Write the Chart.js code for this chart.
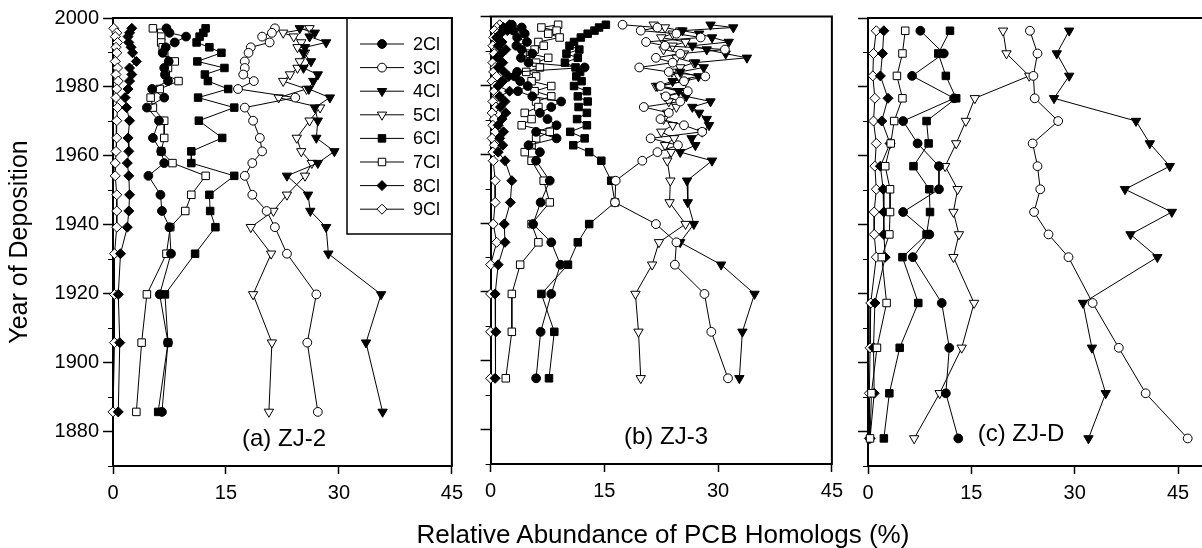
<!DOCTYPE html>
<html>
<head>
<meta charset="utf-8">
<script src="https://cdn.jsdelivr.net/npm/chart.js@4"></script>
<style>
  html, body { margin: 0; padding: 0; background: #fff; width: 1202px; height: 548px; overflow: hidden; }
  canvas { position: absolute; top: 0; }
  #chartA { left: 0; }
  #chartB { left: 470px; }
  #chartC { left: 850px; }
  .txt { position: absolute; font-family: "Liberation Sans", Arial, Helvetica, sans-serif; color: #000; white-space: nowrap; transform: translateX(-50%); }
  .panel { font-size: 24px; line-height: 28px; }
  #xTitle { font-size: 26px; line-height: 30px; left: 663px; top: 519px; }
</style>
</head>
<body>
<canvas id="chartA" width="470" height="548"></canvas>
<canvas id="chartB" width="380" height="548"></canvas>
<canvas id="chartC" width="380" height="548"></canvas>
<div class="txt panel" style="left:284px; top:424px;">(a) ZJ-2</div>
<div class="txt panel" style="left:666px; top:422px;">(b) ZJ-3</div>
<div class="txt panel" style="left:1021px; top:419px;">(c) ZJ-D</div>
<div class="txt" id="xTitle">Relative Abundance of PCB Homologs (%)</div>
<script>
// ---- data (year of deposition, % of each homolog group) ----
const seriesLabels = ['2Cl', '3Cl', '4Cl', '5Cl', '6Cl', '7Cl', '8Cl', '9Cl'];
const xTicks = [0, 15, 30, 45];
const yTicks = [1880, 1900, 1920, 1940, 1960, 1980, 2000];
const yMinorTicks = [1870, 1890, 1910, 1930, 1950, 1970, 1990];

// (a) ZJ-2
const yearsA = [1997.0, 1995.7, 1994.6, 1992.9, 1991.5, 1989.9, 1987.4, 1985.5, 1983.6, 1981.7, 1979.4, 1976.9, 1974.0,
                1970.2, 1965.2, 1961.3, 1957.9, 1954.2, 1948.7, 1944.0, 1939.3, 1931.6, 1919.8, 1905.8, 1885.7];
const a2Cl = [7.1, 7.5, 9.7, 8.2, 7.0, 6.6, 7.4, 6.8, 6.9, 7.3, 5.2, 6.8, 4.5, 6.1, 5.3, 6.4, 6.8, 4.7, 6.3, 6.5, 7.5, 7.7, 6.2, 7.3, 6.5];
const a3Cl = [21.5, 21.1, 19.8, 20.8, 18.3, 18.0, 17.5, 17.5, 17.3, 18.7, 16.6, 24.2, 17.5, 18.6, 19.5, 19.8, 18.5, 17.5, 18.5, 20.4, 21.5, 23.1, 27.0, 25.8, 27.2];
const a4Cl = [24.8, 26.8, 26.1, 28.3, 25.5, 25.3, 26.3, 25.3, 27.2, 26.6, 26.0, 28.8, 26.8, 27.2, 27.0, 29.4, 27.2, 23.1, 25.9, 26.2, 28.3, 28.6, 35.6, 33.6, 35.8];
const a5Cl = [26.1, 22.6, 24.0, 25.0, 24.5, 25.5, 24.8, 24.5, 23.5, 22.6, 25.7, 22.0, 27.5, 26.1, 24.4, 25.0, 26.4, 25.5, 23.1, 21.3, 18.3, 21.0, 18.6, 21.1, 20.7];
const a6Cl = [12.3, 12.0, 11.5, 11.1, 12.8, 14.4, 11.2, 14.8, 12.2, 12.6, 15.3, 11.3, 16.1, 11.4, 14.5, 10.4, 10.4, 16.1, 12.8, 12.9, 13.6, 10.9, 6.9, 7.3, 6.0];
const a7Cl = [5.3, 6.4, 6.4, 6.4, 6.6, 6.8, 8.2, 7.3, 7.0, 8.7, 6.2, 5.0, 5.3, 6.8, 6.8, 6.4, 7.9, 12.3, 10.4, 9.6, 7.6, 7.1, 4.5, 3.8, 3.1];
const a8Cl = [2.5, 2.2, 2.0, 2.1, 2.4, 2.6, 3.1, 2.2, 2.5, 2.2, 2.0, 1.6, 1.8, 2.2, 2.0, 2.1, 1.9, 2.1, 2.2, 2.1, 1.9, 1.0, 0.7, 0.9, 0.7];
const a9Cl = [0.1, 0.5, 0.3, 0.6, 0.4, 0.5, 0.3, 0.6, 0.4, 0.7, 0.5, 0.4, 0.6, 0.5, 0.5, 0.4, 0.3, 0.3, 0.5, 0.5, 0.5, 0.2, 0.2, 0.2, 0.0];

// (b) ZJ-3
const yearsB = [1997.6, 1996.8, 1995.9, 1995.0, 1993.9, 1992.6, 1991.5, 1990.4, 1989.2, 1988.0, 1986.6, 1985.2, 1983.9,
                1982.6, 1981.2, 1979.8, 1978.3, 1976.8, 1975.3, 1973.7, 1972.0, 1970.2, 1968.4, 1966.5, 1964.6, 1962.6,
                1960.6, 1958.1, 1952.3, 1946.0, 1939.7, 1934.4, 1927.9, 1919.4, 1908.4, 1894.9];
const b2Cl = [2.8, 4.1, 3.0, 4.5, 3.5, 4.8, 3.4, 4.1, 5.5, 4.0, 5.0, 12.4, 3.5, 3.2, 3.9, 4.9, 3.6, 5.5, 9.3, 8.0,
              6.5, 7.5, 8.7, 6.0, 8.7, 5.0, 6.5, 6.0, 7.8, 6.6, 5.6, 8.0, 9.2, 8.0, 6.6, 6.0];
const b3Cl = [17.4, 22.0, 19.8, 24.5, 27.7, 20.5, 23.0, 30.9, 25.0, 21.8, 24.0, 19.6, 23.5, 28.3, 25.5, 22.4, 26.0, 23.1, 25.0, 20.2,
              23.5, 22.4, 25.5, 27.9, 21.1, 24.7, 22.0, 20.0, 16.5, 16.4, 21.8, 24.5, 24.3, 28.2, 29.1, 31.3];
const b4Cl = [29.0, 32.0, 25.3, 27.5, 29.2, 31.4, 26.6, 28.5, 31.0, 33.8, 27.0, 28.1, 25.0, 27.4, 24.0, 22.0, 24.8, 25.8, 29.0, 26.6,
              27.5, 28.5, 28.8, 27.9, 26.5, 27.0, 25.0, 29.2, 25.9, 26.0, 26.8, 25.0, 30.4, 34.8, 33.2, 32.8];
const b5Cl = [21.5, 23.0, 25.0, 24.0, 22.5, 25.7, 24.0, 22.8, 25.5, 24.5, 26.8, 25.0, 23.9, 24.8, 25.7, 21.8, 25.3, 23.0, 23.5, 24.5,
              23.3, 22.8, 24.0, 22.5, 24.2, 23.0, 23.8, 23.3, 23.7, 23.6, 25.7, 22.2, 21.3, 19.1, 19.5, 19.8];
const b6Cl = [15.2, 14.3, 13.7, 12.8, 11.9, 11.0, 10.4, 11.7, 10.0, 11.5, 9.8, 11.2, 11.8, 11.3, 12.0, 11.0, 12.7, 11.5, 12.8, 11.6,
              12.7, 11.4, 12.7, 10.5, 12.4, 10.9, 13.0, 14.6, 15.9, 16.4, 13.0, 11.5, 10.2, 6.7, 8.4, 7.7];
const b7Cl = [8.9, 6.7, 8.7, 7.6, 9.1, 6.3, 7.0, 5.8, 5.2, 7.6, 6.0, 6.5, 4.7, 6.0, 5.4, 8.0, 5.8, 8.0, 6.0, 6.3,
              4.5, 5.4, 4.1, 7.8, 6.0, 5.4, 4.5, 5.4, 7.0, 7.8, 5.4, 6.3, 3.9, 2.8, 2.8, 2.0];
const b8Cl = [2.5, 1.7, 2.2, 1.3, 0.8, 1.5, 1.0, 2.0, 1.4, 0.9, 1.6, 1.0, 1.8, 2.4, 1.6, 1.0, 2.5, 1.2, 1.9, 1.3,
              2.0, 1.5, 1.0, 1.7, 1.2, 1.6, 1.0, 1.9, 2.8, 2.6, 1.8, 1.9, 1.0, 0.6, 0.7, 0.6];
const b9Cl = [1.2, 0.8, 0.5, 0.9, 0.4, 0.7, 0.3, 0.8, 0.5, 0.9, 0.3, 0.6, 0.4, 0.8, 0.2, 0.6, 0.5, 0.9, 0.3, 0.7,
              0.2, 0.5, 0.3, 0.6, 0.2, 0.5, 0.3, 0.35, 0.6, 0.6, 0.35, 0.8, 0.0, 0.0, 0.0, 0.0];

// (c) ZJ-D
const yearsC = [1996.3, 1989.7, 1983.2, 1976.7, 1970.1, 1963.6, 1957.0, 1950.3, 1943.7, 1937.2, 1930.6, 1917.3, 1904.3, 1891.1, 1878.0];
const c2Cl = [7.6, 11.0, 6.4, 12.5, 5.1, 7.2, 10.3, 10.3, 5.1, 8.9, 6.5, 10.7, 11.8, 11.3, 13.1];
const c3Cl = [23.5, 24.6, 24.0, 24.2, 27.6, 23.9, 24.6, 25.0, 24.1, 26.2, 29.1, 32.6, 36.4, 40.3, 46.4];
const c4Cl = [29.2, 27.4, 29.2, 27.0, 38.9, 40.9, 43.8, 37.3, 44.1, 38.1, 42.0, 31.2, 32.5, 34.5, 32.0];
const c5Cl = [19.6, 20.1, 23.4, 15.5, 14.2, 12.8, 11.2, 13.0, 12.4, 13.2, 12.4, 15.4, 13.6, 10.4, 6.7];
const c6Cl = [11.9, 10.2, 11.3, 12.8, 8.5, 8.8, 6.6, 8.9, 9.0, 8.5, 5.0, 7.3, 4.6, 3.1, 2.3];
const c7Cl = [5.4, 5.0, 4.2, 5.0, 3.8, 3.3, 2.5, 3.2, 3.2, 3.1, 2.0, 2.7, 1.3, 0.5, 0.3];
const c8Cl = [2.3, 2.1, 1.8, 2.9, 2.0, 3.2, 1.8, 2.2, 2.3, 2.3, 2.5, 1.0, 0.8, 0.9, 0.3];
const c9Cl = [1.2, 0.8, 0.7, 1.0, 0.8, 1.2, 1.0, 1.2, 0.9, 0.9, 1.2, 0.4, 0.3, 0.2, 0.2];

// ---- styles ----
const FONT = '"Liberation Sans", Arial, Helvetica, sans-serif';
const markerShape = ['circle', 'circle', 'triangle', 'triangle', 'rect', 'rect', 'rectRot', 'rectRot'];
const markerFilled = [true, false, true, false, true, false, true, false];
const markerRadius = { circle: 4.4, triangle: 5.4, rect: 5.3, rectRot: 5.0 };

function buildDatasets(years, cols) {
  return cols.map((vals, k) => ({
    label: seriesLabels[k],
    data: years.map((yr, i) => ({ x: vals[i], y: yr })),
    showLine: true,
    borderColor: '#000',
    borderWidth: 1,
    pointStyle: markerShape[k],
    pointRotation: markerShape[k] === 'triangle' ? 180 : 0,
    pointRadius: markerRadius[markerShape[k]],
    pointBackgroundColor: markerFilled[k] ? '#000' : '#fff',
    pointBorderColor: '#000',
    pointBorderWidth: 1,
    clip: false
  }));
}

// box top/right + short minor ticks on the year axis
const framePlugin = {
  id: 'frame',
  afterDraw(chart) {
    const { ctx, chartArea: a } = chart;
    const ys = chart.scales.y;
    ctx.save();
    ctx.strokeStyle = '#000';
    ctx.lineWidth = 2;
    ctx.beginPath();
    ctx.moveTo(a.left - 1, a.top);
    ctx.lineTo(a.right, a.top);
    ctx.lineTo(a.right, a.bottom + 1);
    ctx.stroke();
    ctx.lineWidth = 1;
    yMinorTicks.forEach(v => {
      const p = Math.round(ys.getPixelForValue(v)) + 0.5;
      ctx.beginPath();
      ctx.moveTo(a.left - 5, p);
      ctx.lineTo(a.left, p);
      ctx.stroke();
    });
    ctx.restore();
  }
};

// boxed legend with line + marker samples, only on panel (a)
const legendPlugin = {
  id: 'legendBox',
  afterDatasetsDraw(chart, args, o) {
    if (!o || !o.show) return;
    const { ctx, chartArea: a } = chart;
    ctx.save();
    ctx.fillStyle = '#fff';
    ctx.fillRect(o.left, a.top, a.right - o.left, o.bottom - a.top);
    ctx.strokeStyle = '#000';
    ctx.lineWidth = 1.5;
    ctx.strokeRect(o.left, a.top, a.right - o.left, o.bottom - a.top);
    chart.data.datasets.forEach((ds, i) => {
      const y = o.firstRow + i * o.rowGap;
      ctx.lineWidth = 1;
      ctx.strokeStyle = '#000';
      ctx.beginPath();
      ctx.moveTo(o.lineFrom, y);
      ctx.lineTo(o.lineTo, y);
      ctx.stroke();
      ctx.fillStyle = ds.pointBackgroundColor;
      Chart.helpers.drawPoint(ctx, {
        pointStyle: ds.pointStyle, rotation: ds.pointRotation,
        radius: ds.pointRadius, borderWidth: 1
      }, (o.lineFrom + o.lineTo) / 2, y);
      ctx.fillStyle = '#000';
      ctx.font = '18px ' + FONT;
      ctx.textBaseline = 'middle';
      ctx.textAlign = 'left';
      ctx.fillText(ds.label, o.textX, y + 1);
    });
    ctx.restore();
  }
};

function makePanel(id, years, cols, cfg) {
  return new Chart(document.getElementById(id), {
    type: 'scatter',
    data: { datasets: buildDatasets(years, cols) },
    options: {
      responsive: false,
      animation: false,
      devicePixelRatio: 1,
      events: [],
      layout: { autoPadding: false, padding: { top: cfg.top, right: cfg.right, left: 0, bottom: 0 } },
      plugins: {
        legend: { display: false },
        tooltip: { enabled: false },
        legendBox: cfg.legend || { show: false }
      },
      scales: {
        x: {
          type: 'linear', min: 0, max: cfg.xMax,
          afterBuildTicks: s => { s.ticks = xTicks.map(v => ({ value: v })); },
          afterFit: s => { s.height = cfg.xHeight; },
          grid: { drawOnChartArea: false, color: '#000', tickLength: 8, tickWidth: 1.5 },
          border: { color: '#000', width: 2 },
          ticks: { color: '#000', font: { family: FONT, size: 20 }, padding: 7, maxRotation: 0 }
        },
        y: {
          type: 'linear', min: 1870, max: 2000,
          afterBuildTicks: s => { s.ticks = yTicks.map(v => ({ value: v })); },
          afterFit: s => { s.width = cfg.yWidth; },
          grid: { drawOnChartArea: false, color: '#000', tickLength: 10, tickWidth: 1.5 },
          border: { color: '#000', width: 2 },
          ticks: {
            display: cfg.yLabels, color: '#000', font: { family: FONT, size: 20 }, padding: 4,
            callback: v => String(v)
          },
          title: {
            display: cfg.yLabels, text: 'Year of Deposition', color: '#000',
            font: { family: FONT, size: 25 }, padding: { top: 5, bottom: 0 }
          }
        }
      }
    },
    plugins: [framePlugin, legendPlugin]
  });
}

makePanel('chartA', yearsA, [a2Cl, a3Cl, a4Cl, a5Cl, a6Cl, a7Cl, a8Cl, a9Cl], {
  top: 18, right: 14, xMax: 45, xHeight: 82, yWidth: 113, yLabels: true,
  legend: { show: true, left: 347, bottom: 234, firstRow: 44, rowGap: 23.6, lineFrom: 360, lineTo: 404, textX: 413 }
});
makePanel('chartB', yearsB, [b2Cl, b3Cl, b4Cl, b5Cl, b6Cl, b7Cl, b8Cl, b9Cl], {
  top: 16.5, right: 16, xMax: 45, xHeight: 84, yWidth: 20.6, yLabels: false
});
makePanel('chartC', yearsC, [c2Cl, c3Cl, c4Cl, c5Cl, c6Cl, c7Cl, c8Cl, c9Cl], {
  top: 18, right: 17.5, xMax: 50, xHeight: 82, yWidth: 18, yLabels: false
});
</script>
</body>
</html>
